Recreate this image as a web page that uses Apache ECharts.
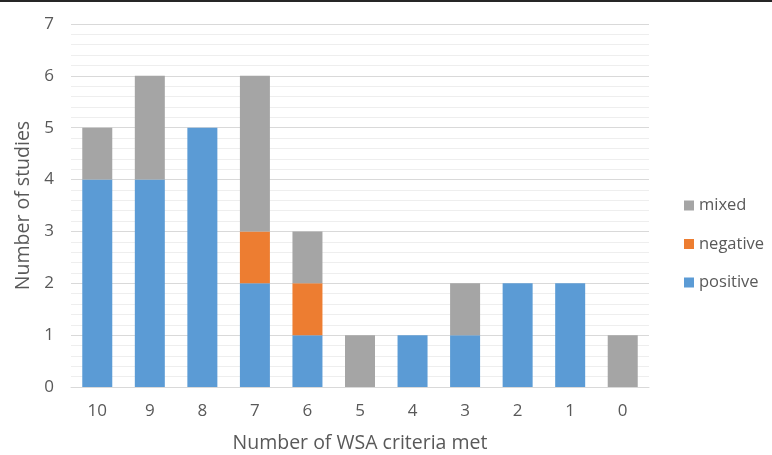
<!DOCTYPE html>
<html><head><meta charset="utf-8">
<script src="https://cdn.jsdelivr.net/npm/echarts@6/dist/echarts.min.js"></script>
<style>html,body{margin:0;padding:0;background:#fff}#c{width:772px;height:455px}</style>
</head><body><div id="c"></div>
<script>
const categories = ['10','9','8','7','6','5','4','3','2','1','0'];
const positive = [4,4,5,2,1,0,1,1,2,2,0];
const negative = [0,0,0,1,1,0,0,0,0,0,0];
const mixed    = [1,2,0,3,1,1,0,1,0,0,1];
const yTicks = {min:0, max:7, interval:1};

const font = "'Open Sans', 'Liberation Sans', sans-serif";
const txt = '#595959';
const chart = echarts.init(document.getElementById('c'), null, {renderer:'canvas'});
function mk(name, data, color){
  return {name, type:'bar', stack:'s', data: data.map(v=>v===0?null:v), barWidth:30,
    itemStyle:{color}, emphasis:{disabled:true}};
}
chart.setOption({
  animation:false,
  textStyle:{fontFamily:font},
  graphic:[{type:'rect', shape:{x:0,y:0,width:772,height:2}, style:{fill:'#262626'}}],
  grid:{left:71, right:123, top:24, bottom:68, containLabel:false, outerBoundsMode:'none'},
  legend:{orient:'vertical', left:679, top:192, itemWidth:10, itemHeight:10, itemGap:21.5,
    data:['mixed','negative','positive'], icon:'rect',
    textStyle:{color:txt, fontSize:16.5, lineHeight:17, fontFamily:font}},
  xAxis:{type:'category', data:categories,
    axisLine:{lineStyle:{color:'#d9d9d9'}}, axisTick:{show:false},
    axisLabel:{color:txt, fontSize:17, margin:16},
    name:'Number of WSA criteria met', nameLocation:'middle', nameGap:46,
    nameTextStyle:{color:txt, fontSize:19.5}},
  yAxis:{type:'value', min:yTicks.min, max:yTicks.max, interval:yTicks.interval,
    axisLine:{show:false}, axisTick:{show:false},
    axisLabel:{color:txt, fontSize:17, margin:17},
    splitLine:{lineStyle:{color:'#d9d9d9', width:1}},
    minorTick:{show:false, splitNumber:5},
    minorSplitLine:{show:true, lineStyle:{color:'#eeeeee', width:1}},
    name:'Number of studies', nameLocation:'middle', nameGap:38,
    nameTextStyle:{color:txt, fontSize:19.5}},
  series:[
    mk('positive', positive, '#5b9bd5'),
    mk('negative', negative, '#ed7d31'),
    mk('mixed', mixed, '#a5a5a5')
  ]
});
</script></body></html>
